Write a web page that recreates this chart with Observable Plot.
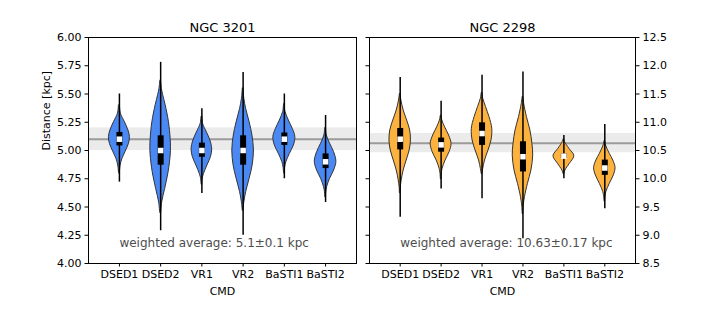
<!DOCTYPE html>
<html><head><meta charset="utf-8">
<script src="https://cdn.jsdelivr.net/npm/d3@7"></script>
<script src="https://cdn.jsdelivr.net/npm/@observablehq/plot@0.6"></script>
<style>
body{margin:0;background:#fff;}
#wrap{display:flex;width:706px;height:314px;}
#wrap svg{font-family:"DejaVu Sans",sans-serif;color:#000;overflow:visible;}
</style></head><body><div id="wrap"></div>
<script>
// ---------- data ----------
const categories = ["DSED1", "DSED2", "VR1", "VR2", "BaSTI1", "BaSTI2"];

// NGC 3201
const n3201Title = "NGC 3201";
const n3201Median = [5.10, 5.00, 5.00, 5.00, 5.10, 4.90];
const n3201Q1     = [5.04, 4.87, 4.94, 4.87, 5.045, 4.84];
const n3201Q3     = [5.16, 5.13, 5.065, 5.13, 5.155, 4.97];
const n3201Min    = [4.72, 4.29, 4.62, 4.25, 4.75, 4.54];
const n3201Max    = [5.50, 5.78, 5.37, 5.69, 5.50, 5.31];
const n3201Profiles = [
  [[4.80,0.4],[4.867,1.2],[4.926,3],[4.985,6],[5.059,9.5],[5.118,10.5],[5.177,9],[5.25,5.5],[5.325,1.5],[5.40,0.5]],
  [[4.45,0.5],[4.54,1.5],[4.66,4.5],[4.81,8],[4.956,10],[5.03,10.3],[5.10,10],[5.25,8.3],[5.40,5],[5.49,2.5],[5.545,1.2],[5.62,0.3]],
  [[4.70,0.3],[4.75,0.8],[4.79,2],[4.867,5.5],[4.94,9],[5.01,10.3],[5.088,8.5],[5.16,5],[5.236,1.2],[5.30,0.4]],
  [[4.47,0.4],[4.54,1.2],[4.63,3],[4.75,6.5],[4.867,9.5],[5.0,10.8],[5.133,9.3],[5.25,6.5],[5.369,3],[5.457,1.2],[5.55,0.3]],
  [[4.80,0.3],[4.85,0.8],[4.897,2],[4.97,5.5],[5.044,9.5],[5.118,11],[5.19,8.5],[5.265,4.5],[5.34,1.2],[5.41,0.3]],
  [[4.59,0.3],[4.63,0.6],[4.675,1.5],[4.75,4.5],[4.823,8.5],[4.90,10.8],[4.985,8.5],[5.06,4.5],[5.133,1.2],[5.20,0.3]]
];
const n3201Avg = 5.1, n3201Err = 0.1;
const n3201AvgText = "weighted average: 5.1±0.1 kpc";
const n3201Ticks = [4.00, 4.25, 4.50, 4.75, 5.00, 5.25, 5.50, 5.75, 6.00];

// NGC 2298
const n2298Title = "NGC 2298";
const n2298Median = [10.70, 10.60, 10.80, 10.39, 10.40, 10.19];
const n2298Q1     = [10.51, 10.47, 10.59, 10.12, 10.36, 10.06];
const n2298Q3     = [10.89, 10.72, 10.99, 10.655, 10.44, 10.33];
const n2298Min    = [9.32, 9.82, 9.645, 8.94, 10.00, 9.47];
const n2298Max    = [11.79, 11.37, 11.83, 11.89, 10.765, 10.96];
const n2298Profiles = [
  [[9.75,0.3],[9.85,0.6],[9.97,1.5],[10.146,3.5],[10.323,6.5],[10.5,9.5],[10.677,10.8],[10.854,10],[11.03,7],[11.208,3.5],[11.385,1.2],[11.50,0.3]],
  [[10.0,0.3],[10.088,0.6],[10.176,1.5],[10.323,4.5],[10.47,8.5],[10.618,10.5],[10.765,8],[10.91,4],[11.03,1.2],[11.12,0.3]],
  [[10.09,0.4],[10.176,1.2],[10.323,3],[10.5,6.5],[10.677,9.5],[10.884,10.3],[11.09,7.5],[11.27,4],[11.415,1.2],[11.52,0.3]],
  [[9.38,0.3],[9.527,0.8],[9.673,2],[9.91,5],[10.146,8.5],[10.41,10.3],[10.618,9.5],[10.854,7.5],[11.09,4],[11.327,1.2],[11.45,0.3]],
  [[10.09,0.5],[10.146,1.5],[10.265,6],[10.40,10.5],[10.53,5.5],[10.647,1.2],[10.70,0.3]],
  [[9.60,0.3],[9.673,0.6],[9.762,1.5],[9.91,5],[10.057,9],[10.19,10.8],[10.323,8.5],[10.44,5],[10.588,1.2],[10.67,0.3]]
];
const n2298Avg = 10.63, n2298Err = 0.17;
const n2298AvgText = "weighted average: 10.63±0.17 kpc";
const n2298Ticks = [8.5, 9.0, 9.5, 10.0, 10.5, 11.0, 11.5, 12.0, 12.5];

// ---------- drawing ----------
const xLimits = [0.25, 6.75];
const positions = categories.map((c, i) => i + 1);
const densityScale = 1 / 41.2;

function panel(cfg) {
  const rows = cfg.profiles.flatMap((prof, i) =>
    prof.map(([v, d]) => ({cat: categories[i], pos: i + 1, v, d})));
  const stats = categories.map((c, i) => ({
    cat: c, pos: i + 1, med: cfg.med[i], q1: cfg.q1[i], q3: cfg.q3[i], lo: cfg.lo[i], hi: cfg.hi[i]
  }));
  const [y0, y1] = [cfg.ticks[0], cfg.ticks[cfg.ticks.length - 1]];
  const labelY = y0 + 0.088 * (y1 - y0);
  const marks = [
    Plot.rect([{a: cfg.avg - cfg.err, b: cfg.avg + cfg.err}],
      {x1: xLimits[0], x2: xLimits[1], y1: "a", y2: "b", fill: "#ebebeb"}),
    Plot.ruleY([cfg.avg], {stroke: "#9b9b9b", strokeWidth: 2}),
    Plot.areaX(rows, {
      y: "v", x1: d => d.pos - d.d * densityScale, x2: d => d.pos + d.d * densityScale,
      z: "cat", fill: cfg.fill, stroke: "#333", strokeWidth: 1, curve: "catmull-rom"
    }),
    Plot.ruleX(stats, {x: "pos", y1: "lo", y2: "hi", stroke: "black", strokeWidth: 1.5}),
    Plot.ruleX(stats, {x: "pos", y1: "q1", y2: "q3", stroke: "black", strokeWidth: 6}),
    Plot.dot(stats, {x: "pos", y: "med", symbol: "square", r: 3.1, fill: "white", stroke: null}),
    Plot.text([cfg.avgText], {x: 1, y: labelY, textAnchor: "start", lineAnchor: "middle", fill: "#4d4d4d", fontSize: 12}),
    Plot.frame({stroke: "black", strokeWidth: 1}),
    Plot.axisX(positions, {anchor: "bottom", tickFormat: d => categories[d - 1], label: null,
      tickSize: 3.5, tickPadding: 3, fontSize: 11}),
    Plot.text(["CMD"], {frameAnchor: "bottom", dy: 28, lineAnchor: "middle", fontSize: 11, fill: "black"}),
    Plot.text([cfg.title], {frameAnchor: "top", dy: -10, lineAnchor: "middle", fontSize: 13, fill: "black"})
  ];
  if (cfg.side === "left") {
    marks.push(
      Plot.axisY(cfg.ticks, {anchor: "left", tickFormat: d3.format(".2f"), label: null,
        tickSize: 3.5, tickPadding: 3.5, fontSize: 11}),
      Plot.text(["Distance [kpc]"], {frameAnchor: "left", dx: -42, rotate: -90, lineAnchor: "middle", fontSize: 11, fill: "black"})
    );
  } else {
    marks.push(
      Plot.axisY(cfg.ticks, {anchor: "left", tickFormat: () => "", label: null, tickSize: 3.5}),
      Plot.axisY(cfg.ticks, {anchor: "right", tickFormat: d3.format(".1f"), label: null,
        tickSize: 3.5, tickPadding: 3.5, fontSize: 11})
    );
  }
  return Plot.plot({
    width: cfg.width, height: 314,
    marginLeft: cfg.marginLeft, marginRight: cfg.marginRight, marginTop: 37, marginBottom: 51,
    x: {type: "linear", domain: xLimits},
    y: {type: "linear", domain: [y0, y1]},
    style: {fontFamily: "DejaVu Sans, sans-serif", color: "black", background: "white", overflow: "visible"},
    marks
  });
}

const wrap = document.getElementById("wrap");
wrap.append(panel({
  side: "left", title: n3201Title, med: n3201Median, q1: n3201Q1, q3: n3201Q3, lo: n3201Min, hi: n3201Max,
  profiles: n3201Profiles, avg: n3201Avg, err: n3201Err, avgText: n3201AvgText, ticks: n3201Ticks,
  fill: "#4a89f3", width: 362, marginLeft: 88, marginRight: 6
}));
wrap.append(panel({
  side: "right", title: n2298Title, med: n2298Median, q1: n2298Q1, q3: n2298Q3, lo: n2298Min, hi: n2298Max,
  profiles: n2298Profiles, avg: n2298Avg, err: n2298Err, avgText: n2298AvgText, ticks: n2298Ticks,
  fill: "#fdb23e", width: 344, marginLeft: 7, marginRight: 71
}));
</script></body></html>
